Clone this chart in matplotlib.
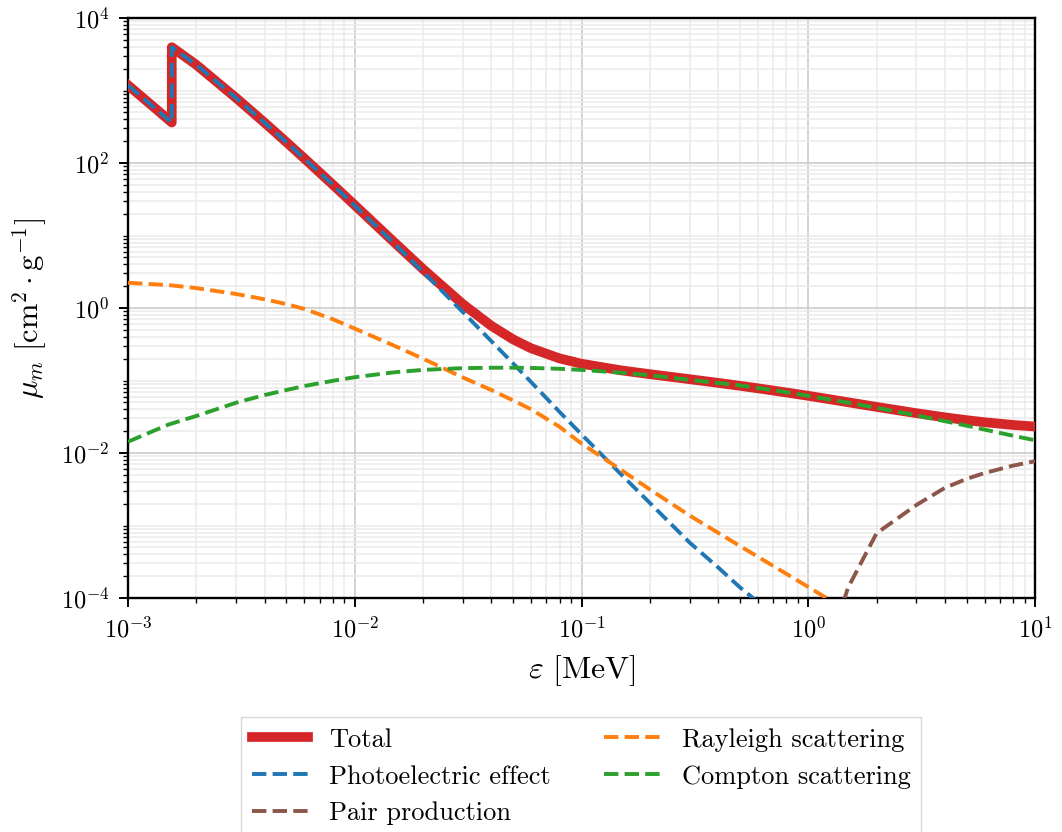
import matplotlib
matplotlib.use("Agg")
import matplotlib.pyplot as plt
from matplotlib.ticker import LogLocator, NullFormatter
import numpy as np

plt.rcParams['font.family'] = 'serif'
plt.rcParams['font.serif'] = ['cmr10', 'DejaVu Serif']
plt.rcParams['mathtext.fontset'] = 'cm'
plt.rcParams['axes.formatter.use_mathtext'] = True
plt.rcParams['axes.unicode_minus'] = False

# Photon energy grid [MeV] (K-edge duplicated)
energy = [1.0e-3, 1.5e-3, 1.5596e-3, 1.5596e-3, 2.0e-3, 3.0e-3, 4.0e-3, 5.0e-3, 6.0e-3, 8.0e-3,
          1.0e-2, 1.5e-2, 2.0e-2, 3.0e-2, 4.0e-2, 5.0e-2, 6.0e-2, 8.0e-2,
          1.0e-1, 1.5e-1, 2.0e-1, 3.0e-1, 4.0e-1, 5.0e-1, 6.0e-1, 8.0e-1,
          1.0, 1.25, 1.5, 2.0, 3.0, 4.0, 5.0, 6.0, 8.0, 10.0]

total = [1185, 402.2, 362.0, 3957, 2263, 788.0, 360.5, 193.4, 115.3, 50.33,
         26.23, 7.955, 3.441, 1.128, 0.5685, 0.3681, 0.2778, 0.2018,
         0.1704, 0.1378, 0.1223, 0.1042, 0.09276, 0.08445, 0.07802, 0.06841,
         0.06146, 0.05496, 0.05006, 0.04324, 0.03541, 0.03106, 0.02836, 0.02655, 0.02437, 0.02318]

photoelectric = [1183, 400.2, 360.0, 3955, 2261, 786.7, 359.5, 192.6, 114.9, 50.14,
                 25.77, 7.637, 3.153, 0.8764, 0.3496, 0.1713, 0.09485, 0.03692,
                 0.01808, 0.005019, 0.002052, 0.000580, 0.000265, 0.000140, 0.000088, 0.000047,
                 0.000030, 0.000020, 0.000015, 0.000010, 0.0000062, 0.0000044, 0.0000034, 0.0000028, 0.0000020, 0.0000016]

rayleigh = [2.23, 2.07, 2.05, 2.05, 1.88, 1.56, 1.32, 1.13, 0.97, 0.70,
            0.52, 0.30, 0.20, 0.11, 0.074, 0.053, 0.040, 0.023,
            0.0135, 0.0058, 0.00315, 0.00137, 0.000795, 0.00052, 0.00037, 0.000216,
            0.000142, 0.000093, 0.000061, 0.000034, 0.000015, 0.0000086, 0.0000055, 0.0000038, 0.0000022, 0.0000014]

compton = [0.0143, 0.0245, 0.0255, 0.0255, 0.0324, 0.0494, 0.063, 0.074, 0.084, 0.099,
           0.111, 0.130, 0.140, 0.148, 0.150, 0.150, 0.149, 0.145,
           0.140, 0.128, 0.118, 0.102, 0.0925, 0.0855, 0.0790, 0.0690,
           0.0613, 0.0545, 0.0494, 0.0420, 0.0330, 0.0275, 0.0238, 0.0210, 0.0173, 0.0150]

pair_energy = [1.25, 1.5, 2.0, 3.0, 4.0, 5.0, 6.0, 8.0, 10.0]
pair = [2.5e-5, 1.4e-4, 7.8e-4, 1.92e-3, 3.3e-3, 4.4e-3, 5.3e-3, 6.7e-3, 7.7e-3]

fig = plt.figure(figsize=(10.62, 8.32), dpi=100)
ax = fig.add_axes([128/1062, 1 - 598/832, (1035-128)/1062, (598-18)/832])

ax.plot(energy, total, color='#d62728', lw=7, label='Total', zorder=3)
ax.plot(energy, photoelectric, color='#1f77b4', lw=2.8, ls='--', label='Photoelectric effect', zorder=4)
ax.plot(pair_energy, pair, color='#8c564b', lw=2.8, ls='--', label='Pair production', zorder=4)
ax.plot(energy, rayleigh, color='#ff7f0e', lw=2.8, ls='--', label='Rayleigh scattering', zorder=4)
ax.plot(energy, compton, color='#2ca02c', lw=2.8, ls='--', label='Compton scattering', zorder=4)

ax.set_xscale('log')
ax.set_yscale('log')
ax.set_xlim(1e-3, 10)
ax.set_ylim(1e-4, 1e4)
ax.yaxis.set_major_locator(LogLocator(base=10, subs=(1.0,), numticks=6))
ax.yaxis.set_minor_locator(LogLocator(base=10, subs=np.arange(1, 10), numticks=100))
ax.yaxis.set_minor_formatter(NullFormatter())

ax.grid(which='major', color='#d0d0d0', lw=1.3)
ax.grid(which='minor', color='#ebebeb', lw=1.1)
ax.set_axisbelow(True)

for s in ax.spines.values():
    s.set_linewidth(1.7)
ax.tick_params(which='major', length=6.5, width=1.4, labelsize=17.5, pad=7)
ax.tick_params(which='minor', length=3.5, width=1.0)

ax.set_xlabel(r'$\varepsilon\ [\mathrm{MeV}]$', fontsize=23, labelpad=8)
ax.set_ylabel(r'$\mu_m\ [\mathrm{cm}^2\cdot\mathrm{g}^{-1}]$', fontsize=22, labelpad=8)

leg = ax.legend(loc='upper center', bbox_to_anchor=(0.4995, -0.183), ncol=2, fontsize=19,
                handlelength=2.15, columnspacing=2.0, fancybox=False, edgecolor='#cccccc')

fig.savefig('out.png', dpi=100)
